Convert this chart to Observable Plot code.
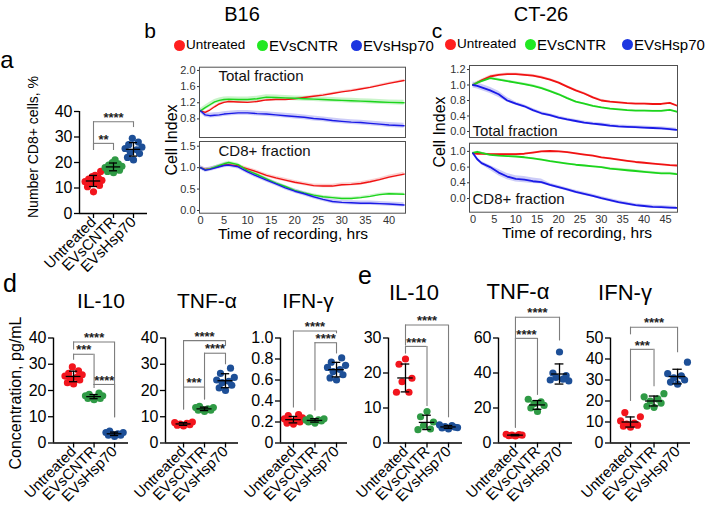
<!DOCTYPE html>
<html>
<head>
<meta charset="utf-8">
<script src="https://cdn.jsdelivr.net/npm/d3@7"></script>
<script src="https://cdn.jsdelivr.net/npm/@observablehq/plot@0.6"></script>
<style>
html, body { margin: 0; padding: 0; background: #fff; }
#fig { position: relative; width: 708px; height: 518px; overflow: hidden; background: #fff; font-family: "Liberation Sans", Arial, Helvetica, sans-serif; color: #000; }
.t { position: absolute; white-space: nowrap; line-height: 1; }
.ldot { position: absolute; border-radius: 50%; }
#fig svg { overflow: visible; }
</style>
</head>
<body>
<div id="fig"></div>
<script>
// ---------------- DATA ----------------
const groups = ["Untreated", "EVsCNTR", "EVsHsp70"];

// panel a: number of CD8+ cells, %
const aUntreated = [8.5, 10.5, 11, 12, 12, 12.5, 13, 13.5, 14, 14.5, 15, 16.5];
const aCNTR = [16, 16.5, 17, 17.5, 18, 18, 18.5, 19, 19.5, 20, 21];
const aHsp70 = [21, 22, 23.5, 24, 25, 25.5, 26, 27, 28, 29.5];

// panel b (B16) cell index, time in hrs
const bTimes = [0, 1, 2, 3, 4, 5, 6, 8, 10, 12, 14, 16, 18, 20, 22, 24, 26, 28, 30, 32, 34, 36, 38, 40, 43.2];
const bTotalUntreated = [1.0, 0.96, 1.02, 1.1, 1.17, 1.21, 1.23, 1.22, 1.21, 1.23, 1.27, 1.28, 1.28, 1.3, 1.33, 1.36, 1.39, 1.43, 1.47, 1.5, 1.54, 1.58, 1.63, 1.68, 1.75];
const bTotalCNTR = [1.0, 1.08, 1.15, 1.22, 1.26, 1.28, 1.29, 1.28, 1.28, 1.3, 1.34, 1.33, 1.32, 1.31, 1.3, 1.29, 1.28, 1.27, 1.26, 1.25, 1.24, 1.23, 1.22, 1.21, 1.2];
const bTotalHsp70 = [1.0, 0.9, 0.88, 0.89, 0.9, 0.92, 0.93, 0.95, 0.95, 0.93, 0.92, 0.9, 0.88, 0.86, 0.84, 0.81, 0.79, 0.76, 0.74, 0.72, 0.71, 0.69, 0.67, 0.65, 0.63];
const bCD8Untreated = [1.0, 0.96, 0.97, 1.0, 1.03, 1.06, 1.07, 1.04, 0.97, 0.9, 0.82, 0.76, 0.71, 0.66, 0.62, 0.58, 0.57, 0.57, 0.6, 0.61, 0.63, 0.67, 0.72, 0.78, 0.85];
const bCD8CNTR = [1.0, 0.95, 0.97, 1.01, 1.05, 1.09, 1.12, 1.07, 0.93, 0.84, 0.74, 0.64, 0.56, 0.47, 0.41, 0.36, 0.32, 0.3, 0.28, 0.28, 0.3, 0.33, 0.37, 0.39, 0.38];
const bCD8Hsp70 = [1.0, 0.94, 0.96, 0.99, 1.02, 1.05, 1.06, 1.02, 0.9, 0.8, 0.71, 0.62, 0.53, 0.45, 0.39, 0.32, 0.26, 0.21, 0.19, 0.18, 0.17, 0.17, 0.16, 0.15, 0.13];
const bTotalSpread = [0.025, 0.06, 0.06];
const bCD8Spread = [0.04, 0.03, 0.05];

// panel c (CT-26) cell index
const cTimes = [0, 1, 2, 4, 6, 8, 10, 12, 14, 16, 18, 20, 22, 24, 26, 28, 30, 32, 34, 36, 38, 40, 42, 44, 46, 47.6];
const cTotalUntreated = [1.0, 1.03, 1.06, 1.11, 1.13, 1.14, 1.14, 1.13, 1.12, 1.1, 1.07, 1.03, 0.98, 0.93, 0.89, 0.84, 0.8, 0.77, 0.75, 0.73, 0.72, 0.72, 0.71, 0.71, 0.74, 0.67];
const cTotalCNTR = [1.0, 1.03, 1.05, 1.09, 1.07, 1.05, 1.03, 1.01, 0.99, 0.96, 0.92, 0.88, 0.83, 0.77, 0.72, 0.66, 0.62, 0.59, 0.57, 0.55, 0.54, 0.54, 0.53, 0.53, 0.56, 0.51];
const cTotalHsp70 = [1.0, 0.99, 0.97, 0.93, 0.88, 0.8, 0.72, 0.65, 0.55, 0.47, 0.42, 0.36, 0.31, 0.27, 0.23, 0.2, 0.18, 0.15, 0.13, 0.12, 0.11, 0.1, 0.09, 0.08, 0.06, 0.04];
const cCD8Untreated = [0.95, 0.94, 0.94, 0.93, 0.93, 0.93, 0.93, 0.94, 0.97, 1.0, 1.01, 1.0, 0.98, 0.95, 0.92, 0.89, 0.85, 0.82, 0.79, 0.76, 0.73, 0.71, 0.69, 0.67, 0.65, 0.64];
const cCD8CNTR = [0.96, 0.99, 0.96, 0.91, 0.89, 0.88, 0.87, 0.85, 0.82, 0.79, 0.75, 0.72, 0.69, 0.66, 0.64, 0.62, 0.6, 0.58, 0.57, 0.56, 0.55, 0.54, 0.53, 0.52, 0.52, 0.51];
const cCD8Hsp70 = [0.95, 0.8, 0.7, 0.6, 0.53, 0.48, 0.45, 0.44, 0.42, 0.41, 0.35, 0.29, 0.23, 0.17, 0.12, 0.07, 0.01, -0.04, -0.09, -0.13, -0.17, -0.19, -0.21, -0.22, -0.23, -0.24];
const cTotalSpread = [0.015, 0.015, 0.04];
const cCD8Spread = [0.015, 0.015, 0.04];
const cTotalTicks = [0, 0.4, 0.8, 1.0, 1.2];
const cCD8Ticks = [0, 0.4, 0.6, 1.0];

// panel d (B16) concentrations, pg/mL
const dIL10Untreated = [22.5, 23, 24, 24.5, 25, 25.5, 26, 26.5, 27.5, 29];
const dIL10CNTR = [16.5, 17, 17, 17.5, 17.5, 18, 18, 18.5, 19];
const dIL10Hsp70 = [2.5, 3, 3, 3.5, 3.5, 4, 4, 4.5];
const dTNFUntreated = [6.5, 6.8, 7, 7.2, 7.5, 7.8, 8];
const dTNFCNTR = [12, 12.5, 12.5, 13, 13, 13.5, 13.5, 14];
const dTNFHsp70 = [20, 21, 22, 23, 23.5, 24, 25, 26.5, 28.5];
const dIFNUntreated = [0.18, 0.19, 0.2, 0.21, 0.22, 0.23, 0.24, 0.26, 0.27];
const dIFNCNTR = [0.19, 0.2, 0.21, 0.21, 0.22, 0.22, 0.23, 0.24];
const dIFNHsp70 = [0.6, 0.62, 0.65, 0.68, 0.7, 0.72, 0.74, 0.77, 0.81];

// panel e (CT-26) concentrations, pg/mL
const eIL10Untreated = [24, 22.5, 18.5, 17.5, 14.5, 14.5];
const eIL10CNTR = [9, 7.5, 6, 5, 4, 3.8];
const eIL10Hsp70 = [4, 4.3, 4.5, 4.7, 5, 5.2, 4.4];
const eTNFUntreated = [4, 4.2, 4.5, 4.5, 4.8, 5];
const eTNFCNTR = [18, 20, 21.5, 22.5, 23.5, 25];
const eTNFHsp70 = [52, 40, 38.5, 37.5, 36.5, 36, 35.5];
const eIFNUntreated = [7.5, 8, 8.5, 9, 9.5, 10.5, 12.5, 14.5];
const eIFNCNTR = [17, 17.5, 19, 20, 21, 22, 23.5];
const eIFNHsp70 = [28, 29, 30, 31, 32, 33, 38.5];

// significance brackets: [from group, to group, bracket level, left end, right end, label]
const sigA = [[0, 1, 27.5, 24.7, 24.7, "**"], [0, 2, 36, 24.7, 33.7, "****"]];
const sigDIL10 = [[0, 2, 38.5, 35.4, 9.6, "****"], [0, 1, 33.8, 31.5, 21.9, "***"], [1, 2, 22.3, 20.8, 9.6, "****"]];
const sigDTNF = [[0, 2, 39, 12.6, 36.8, "****"], [1, 2, 34.2, 16.4, 29.8, "****"], [0, 1, 21.3, 12.6, 16.4, "***"]];
const sigDIFN = [[0, 2, 1.067, 0.333, 1.04, "****"], [1, 2, 0.955, 0.305, 0.848, "****"]];
const sigEIL10 = [[0, 2, 33.7, 27.7, 7.2, "****"], [0, 1, 27.6, 25.4, 10.4, "****"]];
const sigETNF = [[0, 2, 71.9, 8.5, 58.3, "****"], [0, 1, 59.8, 8.5, 27.2, "****"]];
const sigEIFN = [[0, 2, 55.1, 51.5, 43, "****"], [0, 1, 44.6, 19.8, 26.8, "***"]];

// ---------------- STYLE / LAYOUT ----------------
const FONT = '"Liberation Sans", Arial, Helvetica, sans-serif';
const groupColors = ["#f2151d", "#2f9a45", "#1d4f97"];
const seriesColors = ["#f01212", "#1cd41c", "#1a1ae6"];
const bandColors = ["#f7a0a0", "#93ea93", "#9a9af2"];
const legendColors = ["#ff1f1f", "#22e822", "#1c36e0"];
const spreadPattern = [0, -0.3, 0.3, -0.16, 0.16, -0.42, 0.42, -0.24, 0.24, -0.06, 0.08, 0.36, -0.36];

const fig = document.getElementById("fig");

function mount(svg, left, top, width, height) {
  const w = document.createElement("div");
  w.style.cssText = `position:absolute;left:${left}px;top:${top}px;width:${width}px;height:${height}px;`;
  w.appendChild(svg);
  fig.appendChild(w);
}

function label(txt, x, y, size, opt = {}) {
  const {anchor = "middle", rotate = 0, weight = "normal", color = "#000", spacing = 0} = opt;
  const el = document.createElement("div");
  el.className = "t";
  el.textContent = txt;
  const tx = anchor === "start" ? "0" : anchor === "end" ? "-100%" : "-50%";
  el.style.cssText += `left:${x}px;top:${y}px;font-size:${size}px;font-weight:${weight};color:${color};letter-spacing:${spacing}px;` +
    `transform:translate(${tx},-50%)${rotate ? ` rotate(${rotate}deg)` : ""};`;
  if (rotate) el.style.transformOrigin = anchor === "middle" ? "50% 50%" : "0 50%";
  fig.appendChild(el);
}

function legend(x0s, y, sizes) {
  groups.forEach((g, i) => {
    const d = document.createElement("div");
    d.className = "ldot";
    d.style.cssText += `left:${x0s[i] - 5.5}px;top:${y - 5.5}px;width:11px;height:11px;background:${legendColors[i]};`;
    fig.appendChild(d);
    label(g, x0s[i] + 7, y, sizes[i], {anchor: "start"});
  });
}

function scatter(values, sig, cfg) {
  const {x0, x1, lo, hi, top, height, mT, mB, yDomain, yTicks, yFmt} = cfg;
  const left = x0 - 46, width = x1 - left + 10;
  const pts = values.flatMap((vals, g) => vals.map((v, i) => ({g, v, x: g + spreadPattern[i % spreadPattern.length]})));
  const stats = values.map((vals, g) => ({g, m: d3.mean(vals), s: d3.deviation(vals)}));
  const caps = stats.flatMap(d => [{g: d.g, y: d.m - d.s}, {g: d.g, y: d.m + d.s}]);
  const br = sig.map(([a, b, y, ya, yb, t]) => ({a, b, y, ya, yb, t}));
  const chart = Plot.plot({
    width, height,
    marginLeft: x0 - left, marginRight: left + width - x1, marginTop: mT, marginBottom: mB,
    x: {domain: [lo, hi], label: null},
    y: {domain: yDomain, label: null},
    color: {type: "identity"},
    style: {background: "transparent", overflow: "visible", fontFamily: FONT, color: "#000", fontSize: "16px"},
    marks: [
      Plot.ruleY(br, {y: "y", x1: "a", x2: "b", stroke: "#7d7d7d", strokeWidth: 1.1}),
      Plot.ruleX(br, {x: "a", y1: "ya", y2: "y", stroke: "#7d7d7d", strokeWidth: 1.1}),
      Plot.ruleX(br, {x: "b", y1: "yb", y2: "y", stroke: "#7d7d7d", strokeWidth: 1.1}),
      Plot.text(br, {x: d => (d.a + d.b) / 2, y: "y", text: "t", dy: -4, fontSize: 13, fontWeight: "bold", fill: "#222"}),
      Plot.dot(pts, {x: "x", y: "v", r: 3.6, fill: d => groupColors[d.g]}),
      Plot.ruleX(stats, {x: "g", y1: d => d.m - d.s, y2: d => d.m + d.s, stroke: "#000", strokeWidth: 1.3}),
      Plot.ruleY(stats, {y: "m", x1: d => d.g - 0.36, x2: d => d.g + 0.36, stroke: "#000", strokeWidth: 1.3}),
      Plot.ruleY(caps, {y: "y", x1: d => d.g - 0.2, x2: d => d.g + 0.2, stroke: "#000", strokeWidth: 1.3}),
      Plot.ruleX([lo], {stroke: "#000", strokeWidth: 1.4}),
      Plot.ruleY([yDomain[0]], {stroke: "#000", strokeWidth: 1.4}),
      Plot.axisY({ticks: yTicks, tickFormat: yFmt, tickSize: 5, tickPadding: 2, fontSize: 16, strokeWidth: 1.3, label: null}),
      Plot.axisX({ticks: [0, 1, 2], tickFormat: i => groups[i], tickRotate: -45, tickSize: 5, tickPadding: 1, fontSize: 15, strokeWidth: 1.3, label: null})
    ]
  });
  mount(chart, left, top, width, height);
}

const ident = d => d; ident.invert = d => d;

function seriesPanel(cfg) {
  const {left, top, width, height, frame: [fx0, fy0, fx1, fy1], xDomain, yDomain, yTicks, yFmt, map, times, list, spreads, inner, innerAnchor, innerDx, innerDy, xTicks, strokeWidth} = cfg;
  const marks = [];
  const rowsList = list.map(vals => times.map((t, i) => ({t, v: vals[i]})));
  rowsList.forEach((rows, s) => {
    marks.push(Plot.areaY(rows, {x: "t", y1: d => map(d.v - spreads[s]), y2: d => map(d.v + spreads[s]), fill: bandColors[s], fillOpacity: 0.5}));
  });
  rowsList.forEach((rows, s) => {
    marks.push(Plot.line(rows, {x: "t", y: d => map(d.v), stroke: seriesColors[s], strokeWidth}));
  });
  marks.push(Plot.frame({stroke: "#505050", strokeWidth: 1}));
  marks.push(Plot.axisY({ticks: yTicks.map(map), tickFormat: k => yFmt(map.invert(k)), tickSize: 2, tickPadding: 2, fontSize: 11, label: null}));
  if (xTicks) marks.push(Plot.axisX({ticks: xTicks, tickSize: 0, tickPadding: 3, fontSize: 11, label: null}));
  marks.push(Plot.text([inner], {frameAnchor: innerAnchor, dx: innerDx, dy: innerDy, text: d => d, textAnchor: "start", lineAnchor: "middle", fontSize: 15, fill: "#111"}));
  const chart = Plot.plot({
    width, height,
    marginLeft: fx0 - left, marginRight: left + width - fx1, marginTop: fy0 - top, marginBottom: top + height - fy1,
    x: {domain: xDomain, label: null, axis: xTicks ? undefined : null},
    y: {domain: yDomain, label: null},
    style: {background: "transparent", overflow: "visible", fontFamily: FONT, color: "#333", fontSize: "11px"},
    marks
  });
  mount(chart, left, top, width, height);
}

// ---------------- PANEL a ----------------
scatter([aUntreated, aCNTR, aHsp70], sigA, {
  x0: 79, x1: 147, lo: -0.7, hi: 2.7, top: 90, height: 195, mT: 21, mB: 72,
  yDomain: [0, 40], yTicks: [0, 10, 20, 30, 40], yFmt: d3.format("d")
});
label("a", 7, 60, 24);
label("Number CD8+ cells, %", 33, 147, 14, {rotate: -90});

// ---------------- PANEL b ----------------
const f1 = d3.format(".1f");
label("B16", 242, 14, 20);
label("b", 150, 30, 21);
legend([179, 262, 356], 45, [13.5, 15, 15]);
seriesPanel({
  left: 150, top: 55, width: 260, height: 85, frame: [199, 66.7, 405, 137],
  xDomain: [-0.2, 43.5], yDomain: [0.34, 2.08], yTicks: [0.8, 1.2, 1.6, 2.0], yFmt: f1, map: ident,
  times: bTimes, list: [bTotalUntreated, bTotalCNTR, bTotalHsp70], spreads: bTotalSpread,
  inner: "Total fraction", innerAnchor: "top-left", innerDx: 19, innerDy: 8.5, xTicks: null, strokeWidth: 1.4
});
seriesPanel({
  left: 150, top: 138, width: 260, height: 90, frame: [199, 141, 405, 212.7],
  xDomain: [-0.2, 43.5], yDomain: [-0.063, 1.61], yTicks: [0, 0.5, 1.0, 1.5], yFmt: f1, map: ident,
  times: bTimes, list: [bCD8Untreated, bCD8CNTR, bCD8Hsp70], spreads: bCD8Spread,
  inner: "CD8+ fraction", innerAnchor: "top-left", innerDx: 19, innerDy: 10, xTicks: d3.range(0, 41, 5), strokeWidth: 1.4
});
label("Cell Index", 172, 140, 16, {rotate: -90});
label("Time of recording, hrs", 293, 234, 15.5);

// ---------------- PANEL c ----------------
label("CT-26", 541, 14, 20);
label("c", 437, 30, 21);
legend([450, 530, 627], 44, [13.5, 15, 15]);
const cTotalMap = d3.scaleLinear().domain(cTotalTicks).range(d3.range(cTotalTicks.length));
const cCD8Map = d3.scaleLinear().domain(cCD8Ticks).range(d3.range(cCD8Ticks.length));
seriesPanel({
  left: 420, top: 55, width: 268, height: 85, frame: [469, 65, 677, 137],
  xDomain: [-0.82, 47.8], yDomain: [-0.39, 4.26], yTicks: cTotalTicks, yFmt: f1, map: cTotalMap,
  times: cTimes, list: [cTotalUntreated, cTotalCNTR, cTotalHsp70], spreads: cTotalSpread,
  inner: "Total fraction", innerAnchor: "bottom-left", innerDx: 3, innerDy: -6, xTicks: null, strokeWidth: 1.8
});
seriesPanel({
  left: 420, top: 139, width: 268, height: 90, frame: [469, 142.7, 677, 211.7],
  xDomain: [-0.82, 47.8], yDomain: [-0.87, 3.52], yTicks: cCD8Ticks, yFmt: f1, map: cCD8Map,
  times: cTimes, list: [cCD8Untreated, cCD8CNTR, cCD8Hsp70], spreads: cCD8Spread,
  inner: "CD8+ fraction", innerAnchor: "bottom-left", innerDx: 3, innerDy: -12.7, xTicks: d3.range(0, 46, 5), strokeWidth: 1.8
});
label("Cell Index", 440, 132, 16, {rotate: -90});
label("Time of recording, hrs", 577, 233, 15.5);

// ---------------- PANEL d ----------------
const bottomRow = {top: 300, height: 218, mT: 37.5, mB: 75.5};
label("d", 10, 283, 25);
label("Concentration, pg/mL", 16, 393, 16, {rotate: -90});
label("IL-10", 101, 300, 21);
label("TNF-α", 207, 300, 21);
label("IFN-γ", 308, 300, 21);
scatter([dIL10Untreated, dIL10CNTR, dIL10Hsp70], sigDIL10, {...bottomRow, x0: 53, x1: 128, lo: -0.98, hi: 2.68, yDomain: [0, 40], yTicks: [0, 10, 20, 30, 40], yFmt: d3.format("d")});
scatter([dTNFUntreated, dTNFCNTR, dTNFHsp70], sigDTNF, {...bottomRow, x0: 165, x1: 238, lo: -0.86, hi: 2.62, yDomain: [0, 40], yTicks: [0, 10, 20, 30, 40], yFmt: d3.format("d")});
scatter([dIFNUntreated, dIFNCNTR, dIFNHsp70], sigDIFN, {...bottomRow, x0: 280, x1: 347, lo: -0.6, hi: 2.51, yDomain: [0, 1], yTicks: [0, 0.2, 0.4, 0.6, 0.8, 1.0], yFmt: d => d === 0 ? "0" : f1(d)});

// ---------------- PANEL e ----------------
label("e", 365, 275, 25);
label("IL-10", 414, 293, 22);
label("TNF-α", 518, 292, 22);
label("IFN-γ", 625, 293, 22);
scatter([eIL10Untreated, eIL10CNTR, eIL10Hsp70], sigEIL10, {...bottomRow, x0: 388, x1: 462, lo: -0.79, hi: 2.65, yDomain: [0, 30], yTicks: [0, 10, 20, 30], yFmt: d3.format("d")});
scatter([eTNFUntreated, eTNFCNTR, eTNFHsp70], sigETNF, {...bottomRow, x0: 498, x1: 572, lo: -0.77, hi: 2.59, yDomain: [0, 60], yTicks: [0, 20, 40, 60], yFmt: d3.format("d")});
scatter([eIFNUntreated, eIFNCNTR, eIFNHsp70], sigEIFN, {...bottomRow, x0: 610, x1: 690, lo: -0.85, hi: 2.55, yDomain: [0, 50], yTicks: [0, 10, 20, 30, 40, 50], yFmt: d3.format("d")});
</script>
</body>
</html>
